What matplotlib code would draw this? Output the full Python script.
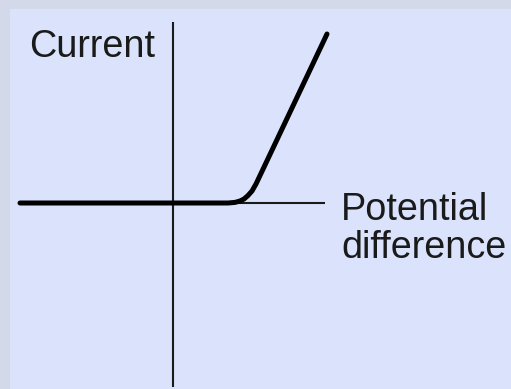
import matplotlib.pyplot as plt
from matplotlib.patches import Rectangle

# I-V characteristic of a diode (sketch units, origin where the axes cross)
voltage = [-153, 55, 62, 67, 71, 75, 79, 83, 154]
current = [0, 0, 0.6, 2, 4, 7.5, 12, 19, 169]

x_axis_span = [-153, 152]
y_axis_span = [-184, 181]

x_label = "Potential\ndifference"
y_label = "Current"

plt.rcParams['font.family'] = ['Liberation Sans', 'DejaVu Sans']

fig = plt.figure(figsize=(5.11, 3.89), dpi=100, facecolor='#d3d9e8')
fig.patches.append(Rectangle((10 / 511, 0), 1, 380 / 389, transform=fig.transFigure,
                             facecolor='#dae3fb', edgecolor='none', zorder=-1))

ax = fig.add_axes([0, 0, 1, 1])
ax.set_facecolor('none')
ax.set_xlim(-173, 338)
ax.set_ylim(-186, 203)
ax.axis('off')

# axes
ax.plot(x_axis_span, [0, 0], color='#1a1a1a', lw=1.5, solid_capstyle='butt')
ax.plot([0, 0], y_axis_span, color='#1a1a1a', lw=1.5, solid_capstyle='butt')

# characteristic curve
ax.plot(voltage, current, color='black', lw=3.6, solid_capstyle='round',
        solid_joinstyle='round')

ax.text(-144, 146, y_label, fontsize=27.2, color='#1a1a1a', va='baseline', ha='left')
ax.text(168, -17, x_label.split("\n")[0], fontsize=27.2, color='#1a1a1a',
        va='baseline', ha='left')
ax.text(168, -55, x_label.split("\n")[1], fontsize=27.2, color='#1a1a1a',
        va='baseline', ha='left')

fig.savefig("out.png", dpi=100, facecolor=fig.get_facecolor())
